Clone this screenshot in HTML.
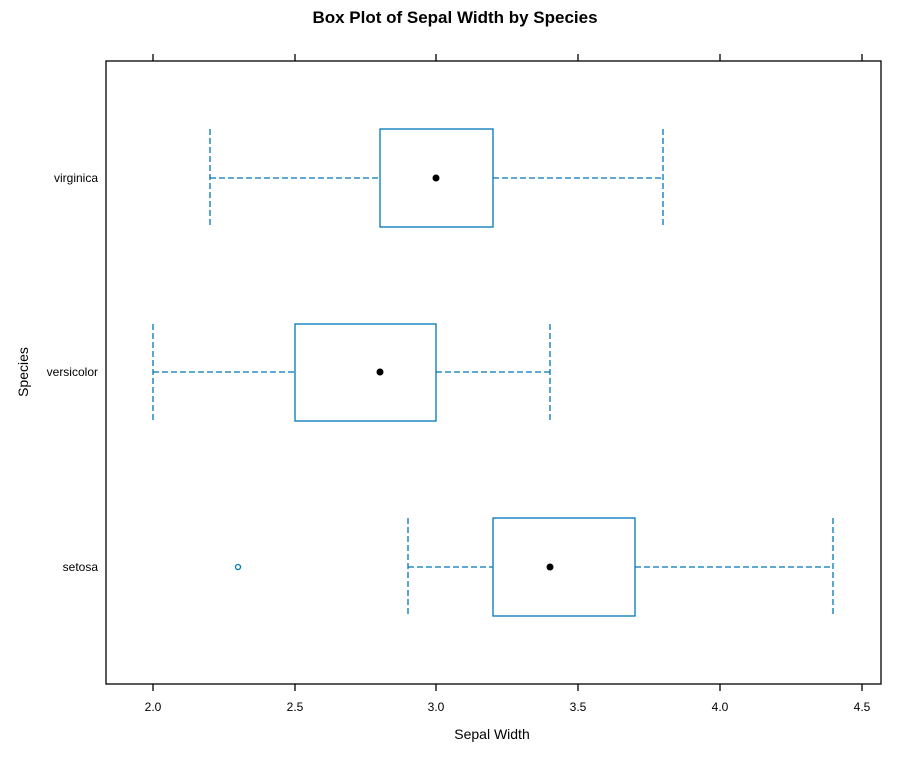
<!DOCTYPE html>
<html><head><style>body{margin:0;background:#fff}</style></head><body>
<svg width="912" height="763" xmlns="http://www.w3.org/2000/svg" font-family="Liberation Sans, Arial, sans-serif">
<rect width="912" height="763" fill="#fff"/>
<text x="455" y="23" text-anchor="middle" font-size="17" font-weight="bold">Box Plot of Sepal Width by Species</text>
<rect x="106" y="61" width="775" height="623" fill="none" stroke="#000" stroke-width="1.3"/>
<g stroke="#000" stroke-width="1.3">
<line x1="153" y1="684" x2="153" y2="691"/><line x1="295" y1="684" x2="295" y2="691"/><line x1="436" y1="684" x2="436" y2="691"/><line x1="578" y1="684" x2="578" y2="691"/><line x1="720" y1="684" x2="720" y2="691"/><line x1="862" y1="684" x2="862" y2="691"/>
<line x1="153" y1="61" x2="153" y2="54"/><line x1="295" y1="61" x2="295" y2="54"/><line x1="436" y1="61" x2="436" y2="54"/><line x1="578" y1="61" x2="578" y2="54"/><line x1="720" y1="61" x2="720" y2="54"/><line x1="862" y1="61" x2="862" y2="54"/>
</g>
<g font-size="12" text-anchor="middle">
<text x="153" y="711">2.0</text><text x="295" y="711">2.5</text><text x="436" y="711">3.0</text><text x="578" y="711">3.5</text><text x="720" y="711">4.0</text><text x="862" y="711">4.5</text>
</g>
<g font-size="12" text-anchor="end">
<text x="98" y="182">virginica</text><text x="98" y="376">versicolor</text><text x="98" y="571">setosa</text>
</g>
<text x="492" y="739" text-anchor="middle" font-size="14">Sepal Width</text>
<text transform="translate(28,372) rotate(-90)" text-anchor="middle" font-size="14">Species</text>
<g stroke="#0076BA" stroke-width="1.3" fill="none">
<g stroke-dasharray="6,3">
<line x1="210" y1="178" x2="380" y2="178"/><line x1="493" y1="178" x2="663" y2="178"/>
<line x1="210" y1="129" x2="210" y2="227"/><line x1="663" y1="129" x2="663" y2="227"/>
<line x1="153" y1="372" x2="295" y2="372"/><line x1="436" y1="372" x2="550" y2="372"/>
<line x1="153" y1="324" x2="153" y2="421"/><line x1="550" y1="324" x2="550" y2="421"/>
<line x1="408" y1="567" x2="493" y2="567"/><line x1="635" y1="567" x2="833" y2="567"/>
<line x1="408" y1="518" x2="408" y2="616"/><line x1="833" y1="518" x2="833" y2="616"/>
</g>
<rect x="380" y="129" width="113" height="98"/>
<rect x="295" y="324" width="141" height="97"/>
<rect x="493" y="518" width="142" height="98"/>
<circle cx="238" cy="567" r="2.5"/>
</g>
<g fill="#000"><circle cx="436" cy="178" r="3.5"/><circle cx="380" cy="372" r="3.5"/><circle cx="550" cy="567" r="3.5"/></g>
</svg>
</body></html>
